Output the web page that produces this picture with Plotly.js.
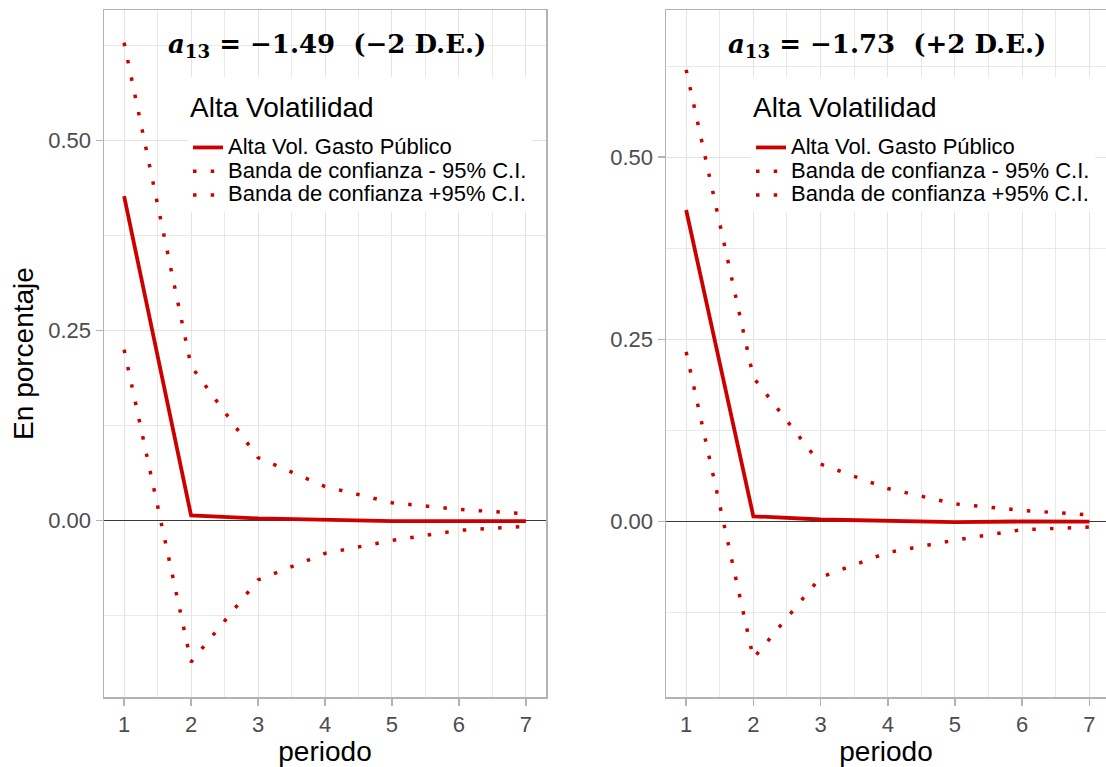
<!DOCTYPE html>
<html>
<head>
<meta charset="utf-8">
<script src="https://cdn.plot.ly/plotly-3.0.1.min.js"></script>
<style>html,body{margin:0;padding:0;background:#fff;}#chart{width:1106px;height:767px;}</style>
</head>
<body>
<div id="chart"></div>
<script>
// ---- data ----
const periodo = [1, 2, 3, 4, 5, 6, 7];

// Panel 1: a13 = -1.49 (-2 D.E.)
const irfNeg  = [0.427, 0.007, 0.003, 0.0015, -0.0006, -0.0006, -0.0006];
const lowNeg  = [0.225, -0.186, -0.078, -0.043, -0.026, -0.0127, -0.0074];
const highNeg = [0.629, 0.2035, 0.083, 0.045, 0.0236, 0.0149, 0.0092];

// Panel 2: a13 = -1.73 (+2 D.E.)
const irfPos  = [0.4276, 0.0074, 0.003, 0.0015, -0.0007, 0.0003, 0.0002];
const lowPos  = [0.233, -0.1875, -0.0763, -0.0423, -0.0253, -0.011, -0.0074];
const highPos = [0.62, 0.198, 0.079, 0.0455, 0.0244, 0.0156, 0.0092];

const seriesNames = ["Alta Vol. Gasto Público", "Banda de confianza - 95% C.I.", "Banda de confianza +95% C.I."];
const legendTitle = "Alta Volatilidad";
const panelTitles = [
  "<b><i>a</i><sub>13</sub> = −1.49\u00a0\u00a0(−2 D.E.)</b>",
  "<b><i>a</i><sub>13</sub> = −1.73\u00a0\u00a0(+2 D.E.)</b>"
];
const yTickVals = [0, 0.25, 0.5];
const yTickText = ["0.00", "0.25", "0.50"];
const xTitle = "periodo";
const yTitle = "En porcentaje";

// ---- styling ----
const RED = "#CD0000";
const FONT = "Liberation Sans, Arial, sans-serif";
const dotted = "3.5px,14.2px";
const legName = n => '<span style="font-size:22px">' + n + '</span>';

function mk(x, y, name, dash, xa, ya, leg, width) {
  return {x: x, y: y, name: legName(name), type: "scatter", mode: "lines",
          line: {color: RED, width: width, dash: dash},
          xaxis: xa, yaxis: ya, legend: leg, hoverinfo: "skip"};
}

const traces = [
  mk(periodo, irfNeg, seriesNames[0], "solid", "x", "y", "legend", 3.8),
  mk(periodo, lowNeg, seriesNames[1], dotted, "x", "y", "legend", 3.5),
  mk(periodo, highNeg, seriesNames[2], dotted, "x", "y", "legend", 3.5),
  mk(periodo, irfPos, seriesNames[0], "solid", "x2", "y2", "legend2", 3.8),
  mk(periodo, lowPos, seriesNames[1], dotted, "x2", "y2", "legend2", 3.5),
  mk(periodo, highPos, seriesNames[2], dotted, "x2", "y2", "legend2", 3.5)
];

const W = 1106, H = 767;
const grid = "#e4e4e4", border = "#b3b3b3";

function xax(domain, range, anchor) {
  return {domain: domain, range: range, anchor: anchor,
    tickmode: "array", tickvals: periodo, ticktext: periodo.map(String),
    showgrid: true, gridcolor: grid, gridwidth: 1,
    minor: {tickmode: "linear", tick0: 0.5, dtick: 1, showgrid: true, gridcolor: grid, gridwidth: 0.8, ticks: ""},
    ticks: "outside", ticklen: 7, tickcolor: border, tickwidth: 1.5,
    showline: true, linecolor: border, linewidth: 1.5, mirror: true,
    zeroline: false,
    tickfont: {family: FONT, size: 22, color: "#4d4d4d"},
    title: {text: xTitle, font: {family: FONT, size: 28, color: "#000"}, standoff: 8}};
}
function yax(domain, range, anchor, title, mirror) {
  return {domain: domain, range: range, anchor: anchor,
    tickmode: "array", tickvals: yTickVals, ticktext: yTickText,
    showgrid: true, gridcolor: grid, gridwidth: 1,
    minor: {tickmode: "linear", tick0: 0.125, dtick: 0.25, showgrid: true, gridcolor: grid, gridwidth: 0.8, ticks: ""},
    ticks: "outside", ticklen: 7, tickcolor: border, tickwidth: 1.5,
    showline: true, linecolor: border, linewidth: 1.5, mirror: mirror,
    zeroline: true, zerolinecolor: "#3a3a3a", zerolinewidth: 1,
    tickfont: {family: FONT, size: 22, color: "#4d4d4d"},
    title: title ? {text: title, font: {family: FONT, size: 28, color: "#000"}, standoff: 6} : {text: ""}};
}

const yDom = [1 - 697 / H, 1 - 10 / H];
function leg(xpx, ypx) {
  return {x: xpx / W, y: 1 - ypx / H, xanchor: "left", yanchor: "top",
    bgcolor: "#ffffff", borderwidth: 0,
    font: {family: FONT, size: 16, color: "#000"},
    title: {text: '\u00a0<br>\u00a0<br><span style="font-size:28px">' + legendTitle + '</span><br>\u00a0',
            font: {family: FONT, size: 10.3, color: "#000"}},
    tracegroupgap: 0};
}

const layout = {
  width: W, height: H,
  margin: {l: 0, r: 0, t: 0, b: 0},
  paper_bgcolor: "#fff", plot_bgcolor: "#fff",
  showlegend: true,
  xaxis: xax([104 / W, 546 / W], [0.7, 7.3], "y"),
  yaxis: yax(yDom, [-0.232, 0.672], "x", yTitle, true),
  xaxis2: xax([666 / W, 1], [0.7, 7.248], "y2"),
  yaxis2: yax(yDom, [-0.2405, 0.702], "x2", null, false),
  legend: leg(188, 77),
  legend2: leg(751, 77),
  annotations: [
    {text: panelTitles[0], x: 327 / W, y: 1 - 45 / H, xref: "paper", yref: "paper",
     xanchor: "center", yanchor: "middle", showarrow: false,
     font: {family: "DejaVu Serif, serif", size: 26, color: "#000"}},
    {text: panelTitles[1], x: 887 / W, y: 1 - 45 / H, xref: "paper", yref: "paper",
     xanchor: "center", yanchor: "middle", showarrow: false,
     font: {family: "DejaVu Serif, serif", size: 26, color: "#000"}}
  ]
};

Plotly.newPlot("chart", traces, layout, {displayModeBar: false, staticPlot: true});
</script>
</body>
</html>
